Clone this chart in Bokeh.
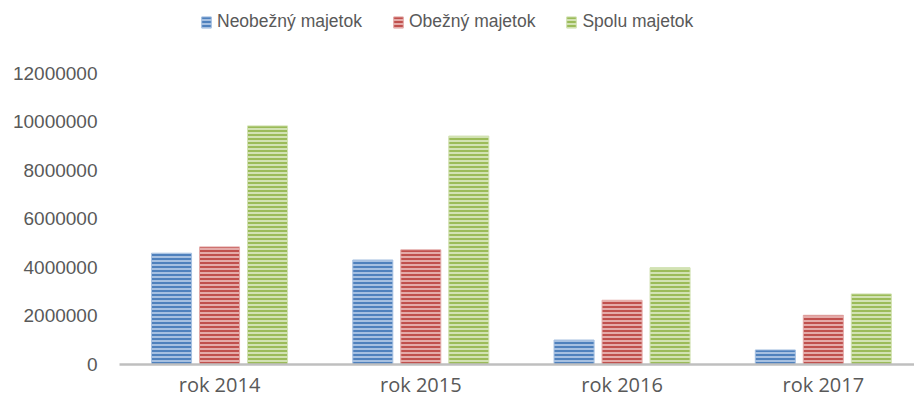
from bokeh.plotting import figure
from bokeh.models import ColumnDataSource, Range1d, FixedTicker, Legend, LegendItem
from bokeh.transform import dodge
from bokeh.embed import file_html
from bokeh.resources import INLINE

categories = ["rok 2014", "rok 2015", "rok 2016", "rok 2017"]
series_names = ["Neobežný majetok", "Obežný majetok", "Spolu majetok"]
neobezny = [4590000, 4310000, 1010000, 600000]
obezny = [4850000, 4730000, 2650000, 2030000]
spolu = [9840000, 9420000, 3990000, 2910000]
y_ticks = [0, 2000000, 4000000, 6000000, 8000000, 10000000, 12000000]

src = ColumnDataSource(dict(
    x=list(range(len(categories))),
    neobezny=neobezny, obezny=obezny, spolu=spolu,
))

p = figure(width=914, height=402, output_backend="svg", toolbar_location=None,
           x_range=Range1d(-0.497, 3.453), y_range=Range1d(0, 15010000),
           min_border_left=119, min_border_right=0, min_border_top=0,
           min_border_bottom=38)
p.outline_line_color = None
p.background_fill_color = "white"
p.border_fill_color = "white"
p.xgrid.visible = False
p.ygrid.visible = False

styles = [
    ("neobezny", -0.2385, "#4F81BD", "#A6C0E1"),
    ("obezny", 0.0, "#C0504D", "#E4ABA9"),
    ("spolu", 0.2385, "#9BBB59", "#D2E2B3"),
]
renderers = []
for col, off, dark, light in styles:
    r = p.vbar(x=dodge("x", off, range=p.x_range), top=col, width=0.199, bottom=0,
               source=src, fill_color=light, line_color=light, line_width=1,
               hatch_pattern="horizontal_line", hatch_color=dark,
               hatch_weight=2, hatch_scale=4)
    renderers.append(r)

# axes
p.xaxis.ticker = FixedTicker(ticks=list(range(len(categories))))
p.xaxis.major_label_overrides = {i: c for i, c in enumerate(categories)}
p.xaxis.axis_line_color = "#BFBFBF"
p.xaxis.axis_line_width = 2.5
p.xaxis.major_tick_line_color = None
p.xaxis.minor_tick_line_color = None
p.xaxis.major_tick_out = 0
p.xaxis.major_tick_in = 0
p.xaxis.minor_tick_out = 0
p.xaxis.major_label_text_font = "Open Sans"
p.xaxis.major_label_text_font_size = "20px"
p.xaxis.major_label_text_color = "#595959"
p.xaxis.major_label_standoff = 6

p.yaxis.ticker = FixedTicker(ticks=y_ticks)
p.yaxis.major_label_overrides = {t: str(t) for t in y_ticks}
p.yaxis.axis_line_color = None
p.yaxis.major_tick_line_color = None
p.yaxis.minor_tick_line_color = None
p.yaxis.major_tick_out = 0
p.yaxis.major_tick_in = 0
p.yaxis.minor_tick_out = 0
p.yaxis.major_label_text_font = "Liberation Sans"
p.yaxis.major_label_text_font_size = "19px"
p.yaxis.major_label_text_color = "#595959"
p.yaxis.major_label_standoff = 22

legend = Legend(
    items=[LegendItem(label=n, renderers=[r]) for n, r in zip(series_names, renderers)],
    orientation="horizontal", location=(81, 332),
    border_line_color=None, background_fill_alpha=0,
    padding=0, margin=0, spacing=30, label_standoff=5,
    glyph_width=12, glyph_height=14,
    label_text_font="Liberation Sans", label_text_font_size="17.5px",
    label_text_color="#595959",
)
p.add_layout(legend, "center")

open("out.html", "w").write(file_html(p, INLINE))
